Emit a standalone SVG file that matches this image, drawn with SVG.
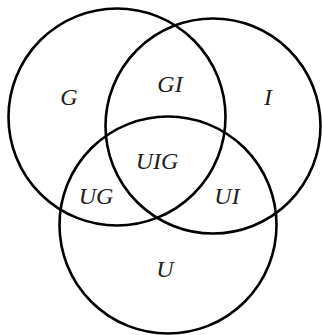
<svg xmlns="http://www.w3.org/2000/svg" width="322" height="335" viewBox="0 0 322 335">
<style>
.c{fill:none;stroke:#000;stroke-width:2.6}
.t{font-family:"Liberation Serif","Times New Roman",serif;font-style:italic;font-size:24px;fill:#222;text-anchor:middle}
</style>
<rect width="322" height="335" fill="#fff"/>
<g id="connectors"></g>
<g id="circle-G"><circle class="c" cx="117" cy="117" r="108.5"/></g>
<g id="circle-I"><circle class="c" cx="213" cy="126" r="107.5"/></g>
<g id="circle-U"><circle class="c" cx="168" cy="225" r="108.5"/></g>
<g id="label-G"><text class="t" x="69" y="105">G</text></g>
<g id="label-GI"><text class="t" x="170" y="92">GI</text></g>
<g id="label-I"><text class="t" x="268" y="105">I</text></g>
<g id="label-UIG"><text class="t" x="157" y="169">UIG</text></g>
<g id="label-UG"><text class="t" x="96" y="204">UG</text></g>
<g id="label-UI"><text class="t" x="227" y="204">UI</text></g>
<g id="label-U"><text class="t" x="165" y="277">U</text></g>
</svg>
